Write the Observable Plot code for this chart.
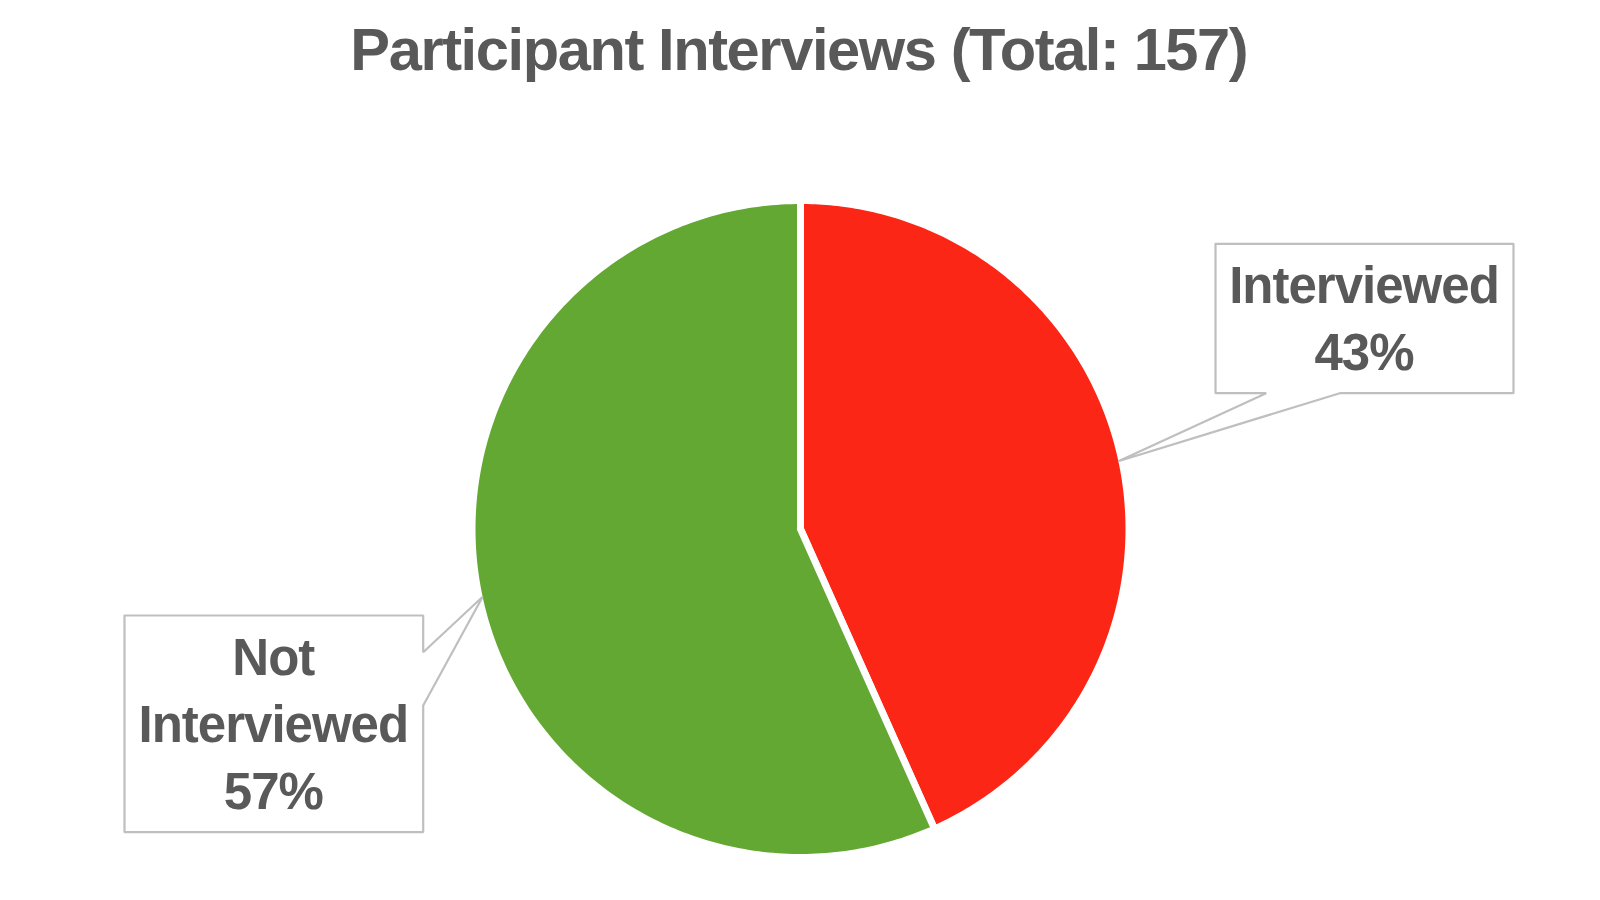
<!DOCTYPE html>
<html>
<head>
<meta charset="utf-8">
<script src="https://cdn.jsdelivr.net/npm/d3@7"></script>
<script src="https://cdn.jsdelivr.net/npm/@observablehq/plot@0.6"></script>
<style>
  html, body { margin: 0; padding: 0; background: #ffffff; }
</style>
</head>
<body>
<div id="chart"></div>
<script>
// ---- data ----
const titleText = "Participant Interviews (Total: 157)";
const categories = ["Interviewed", "Not Interviewed"];
const counts = [68, 89];
const labelLines = [["Interviewed"], ["Not", "Interviewed"]];
const sliceColors = ["#FB2615", "#63A832"];

// ---- layout ----
const W = 1600, H = 900;
const CX = 800, CY = 528.5, R = 325, GAP = 7;
const FONT = "'Liberation Sans', Arial, sans-serif";
const TEXT_COLOR = "#595959";
const LABEL_SIZE = 51, LABEL_LS = -1.0, LINE_STEP = 67;
const TITLE_SIZE = 59.6, TITLE_LS = -1.4;

// callout boxes (layout): box rectangle + where the pointer leaves the box
const boxes = [
  {x0: 1215, y0: 243.3, x1: 1513, y1: 392.7, side: "bottom", p0: 1265.7, p1: 1339.3, cx: 1364, base: 302.7},
  {x0: 124, y0: 615, x1: 422.7, y1: 831.7, side: "right", p0: 651.7, p1: 705, cx: 273.3, base: 674.3}
];

const total = d3.sum(counts);
const arcs = d3.pie().sort(null).value(d => d.count)(
  categories.map((c, i) => ({category: c, count: counts[i], color: sliceColors[i]}))
);
const pt = (a, r) => [CX + r * Math.sin(a), CY - r * Math.cos(a)];

// slice outlines
const slicePaths = arcs.map(a => {
  const pts = [[CX, CY]];
  const n = 240;
  for (let k = 0; k <= n; k++) {
    const ang = a.startAngle + (a.endAngle - a.startAngle) * k / n;
    pts.push(pt(ang, R + GAP / 2));
  }
  pts.push([CX, CY]);
  return {color: a.data.color, pts: pts.map(([x, y]) => ({x, y}))};
});

// callout outlines with pointers to slice mid-angles
const calloutPaths = arcs.map((a, i) => {
  const b = boxes[i];
  const mid = (a.startAngle + a.endAngle) / 2;
  const [tx, ty] = pt(mid, R);
  let p;
  if (b.side === "bottom") {
    p = [[b.x0, b.y0], [b.x1, b.y0], [b.x1, b.y1], [b.p1, b.y1], [tx, ty], [b.p0, b.y1], [b.x0, b.y1], [b.x0, b.y0]];
  } else {
    p = [[b.x0, b.y0], [b.x1, b.y0], [b.x1, b.p0], [tx, ty], [b.x1, b.p1], [b.x1, b.y1], [b.x0, b.y1], [b.x0, b.y0]];
  }
  return p.map(([x, y]) => ({x, y}));
});

// label text rows
const labelRows = [];
arcs.forEach((a, i) => {
  const b = boxes[i];
  const pct = Math.round(a.data.count / total * 100) + "%";
  const lines = [...labelLines[i], pct];
  lines.forEach((t, j) => labelRows.push({x: b.cx, y: b.base + j * LINE_STEP, text: t}));
});

const marks = [];
slicePaths.forEach(s => {
  marks.push(Plot.line(s.pts, {x: "x", y: "y", fill: s.color, stroke: "white", strokeWidth: GAP, strokeLinejoin: "round", curve: "linear"}));
});
calloutPaths.forEach(c => {
  marks.push(Plot.line(c, {x: "x", y: "y", fill: "white", stroke: "#BFBFBF", strokeWidth: 2.2, strokeLinejoin: "miter", curve: "linear"}));
});
marks.push(Plot.text(labelRows, {
  x: "x", y: "y", text: "text", textAnchor: "middle", lineAnchor: "bottom",
  fontSize: LABEL_SIZE, fontWeight: "bold", fontFamily: FONT, fill: TEXT_COLOR, dx: LABEL_LS / 2
}));
marks.push(Plot.text([{x: 799, y: 69.3, text: titleText}], {
  x: "x", y: "y", text: "text", textAnchor: "middle", lineAnchor: "bottom",
  fontSize: TITLE_SIZE, fontWeight: "bold", fontFamily: FONT, fill: TEXT_COLOR, dx: TITLE_LS / 2
}));

const chart = Plot.plot({
  width: W, height: H,
  margin: 0,
  x: {type: "linear", domain: [0, W], range: [0, W], axis: null},
  y: {type: "linear", domain: [0, H], range: [0, H], axis: null},
  style: {background: "white", overflow: "visible"},
  marks
});
d3.select(chart).selectAll("text").each(function () {
  const ls = this.textContent === titleText ? TITLE_LS : LABEL_LS;
  this.setAttribute("letter-spacing", ls);
  this.style.letterSpacing = ls + "px";
});
document.getElementById("chart").appendChild(chart);
</script>
</body>
</html>
